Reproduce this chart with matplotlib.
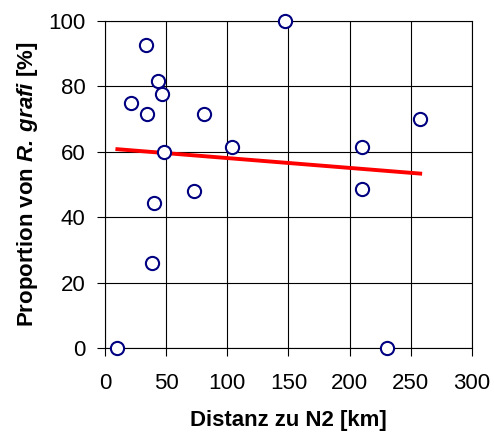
import numpy as np
import matplotlib
matplotlib.use("Agg")
import matplotlib.pyplot as plt

# Distance to N2 (km) and share of R. grafi (%) per site
distance_km = [147.3, 33.8, 43.3, 46.9, 21.0, 34.6, 81.0, 257.8, 104.2,
               209.8, 48.2, 73.1, 210.3, 39.8, 38.2, 10.1, 230.8]
proportion = [100.0, 92.6, 81.6, 77.5, 75.0, 71.4, 71.4, 70.0, 61.6,
              61.6, 59.8, 48.0, 48.7, 44.5, 25.9, 0.0, 0.0]

x_ticks = [0, 50, 100, 150, 200, 250, 300]
y_ticks = [0, 20, 40, 60, 80, 100]

plt.rcParams['font.family'] = ['Liberation Sans', 'DejaVu Sans']
plt.rcParams['mathtext.fontset'] = 'custom'
plt.rcParams['mathtext.bfit'] = 'Liberation Sans:italic:bold'

fig = plt.figure(figsize=(4.94, 4.33), dpi=100)
ax = fig.add_axes([0.2126, 0.1956, 0.7424, 0.7564])

ax.plot(distance_km, proportion, linestyle='none', marker='o', markersize=9.5,
        markerfacecolor='white', markeredgecolor='#000080', markeredgewidth=1.5,
        zorder=4, clip_on=False)

# linear trend over the range of the data
slope, intercept = np.polyfit(distance_km, proportion, 1)
xs = np.array([min(distance_km), max(distance_km)])
ax.plot(xs, intercept + slope * xs, color='#ff0000', linewidth=2.8, zorder=3)

ax.set_xlim(0, 300)
ax.set_ylim(0, 100)
ax.set_xticks(x_ticks)
ax.set_yticks(y_ticks)
ax.grid(True, color='black', linewidth=0.8)
ax.set_axisbelow(True)
for s in ax.spines.values():
    s.set_linewidth(0.8)
ax.tick_params(direction='out', length=6, width=0.8, labelsize=16)
ax.tick_params(axis='x', pad=12)
ax.tick_params(axis='y', pad=8)

ax.set_xlabel('Distanz zu N2 [km]', fontsize=16, fontweight='bold', labelpad=11)
ax.set_ylabel(r'Proportion von $\mathbfit{R.\,grafi}$ [%]', fontsize=16,
              fontweight='bold', labelpad=6)

fig.savefig('out.png', dpi=100)
